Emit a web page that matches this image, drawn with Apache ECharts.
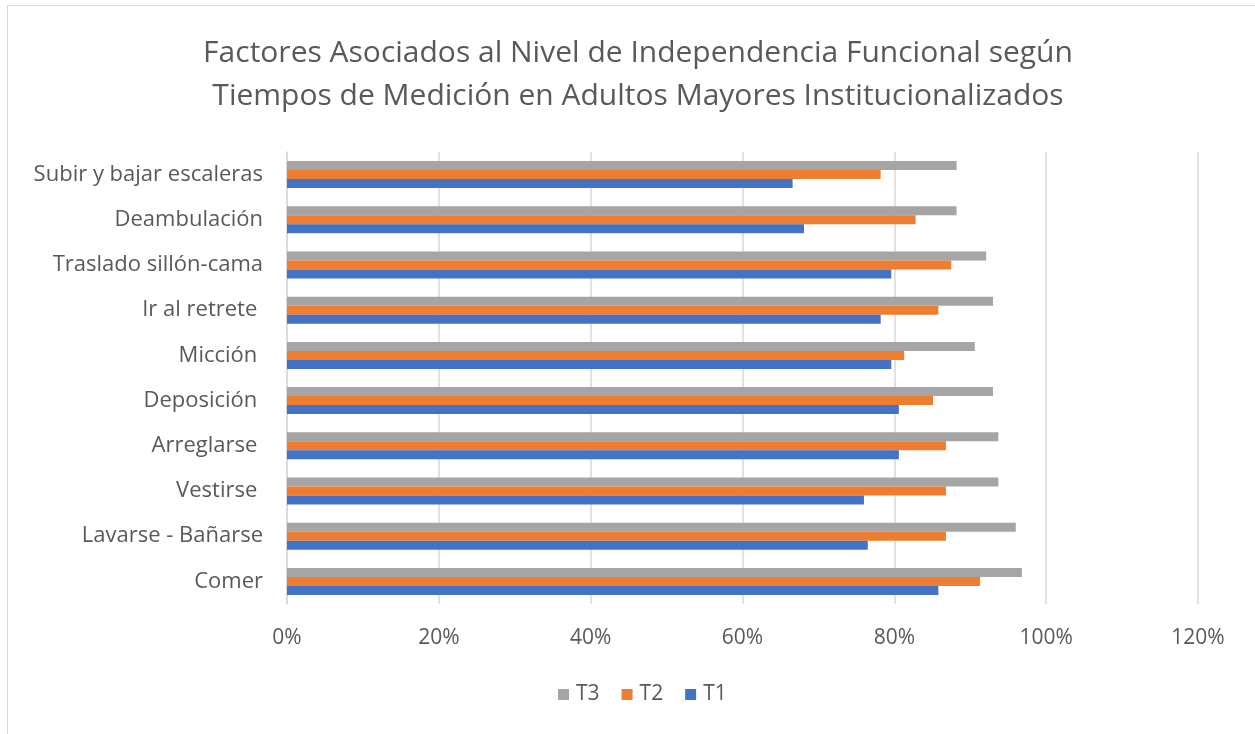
<!DOCTYPE html>
<html>
<head>
<meta charset="utf-8">
<script src="https://cdn.jsdelivr.net/npm/echarts@6/dist/echarts.min.js"></script>
<style>
  html, body { margin: 0; padding: 0; background: #fff; }
  #chart { width: 1255px; height: 734px; }
</style>
</head>
<body>
<div id="chart"></div>
<script>
// categories, bottom to top
var categories = ['Comer', 'Lavarse - Bañarse', 'Vestirse ', 'Arreglarse ', 'Deposición ',
  'Micción ', 'Ir al retrete ', 'Traslado sillón-cama', 'Deambulación', 'Subir y bajar escaleras'];
var t1Values = [0.858, 0.765, 0.760, 0.806, 0.806, 0.796, 0.782, 0.796, 0.681, 0.666];
var t2Values = [0.913, 0.868, 0.868, 0.868, 0.851, 0.813, 0.858, 0.875, 0.828, 0.782];
var t3Values = [0.968, 0.960, 0.937, 0.937, 0.930, 0.906, 0.930, 0.921, 0.882, 0.882];
var xTicks = [0, 0.2, 0.4, 0.6, 0.8, 1.0, 1.2];

var textColor = '#595959';
var fontName = 'Open Sans';

var myChart = echarts.init(document.getElementById('chart'));
var option = {
  backgroundColor: '#fff',
  animation: false,
  graphic: [{
    type: 'rect',
    shape: { x: 7.5, y: 5.5, width: 1260, height: 740 },
    style: { fill: 'none', stroke: '#d9d9d9', lineWidth: 1 },
    silent: true
  }],
  title: {
    text: 'Factores Asociados al Nivel de Independencia Funcional según\nTiempos de Medición en Adultos Mayores Institucionalizados',
    left: 633,
    textAlign: 'center',
    top: 27,
    textStyle: { fontFamily: fontName, fontSize: 30, fontWeight: 'normal', color: textColor, lineHeight: 43 }
  },
  legend: {
    data: ['T3', 'T2', 'T1'],
    bottom: 24,
    left: 553,
    itemWidth: 11,
    itemHeight: 11,
    itemGap: 22,
    icon: 'rect',
    textStyle: { fontFamily: fontName, fontSize: 21, color: textColor, padding: [0, 0, 0, 2] }
  },
  grid: { left: 287, right: 57, top: 152, bottom: 130, containLabel: false },
  xAxis: {
    type: 'value',
    min: xTicks[0],
    max: xTicks[xTicks.length - 1],
    interval: 0.2,
    axisLine: { show: false },
    axisTick: { show: false },
    splitLine: { show: true, lineStyle: { color: '#d9d9d9', width: 1.5 } },
    axisLabel: {
      margin: 24,
      fontFamily: fontName, fontSize: 21, color: textColor,
      formatter: function (v) { return Math.round(v * 100) + '%'; }
    }
  },
  yAxis: {
    type: 'category',
    data: categories,
    axisLine: { show: true, lineStyle: { color: '#d9d9d9', width: 1.5 } },
    axisTick: { show: false },
    axisLabel: { margin: 24, fontFamily: fontName, fontSize: 22, color: textColor }
  },
  series: [
    { name: 'T3', type: 'bar', data: t3Values, barWidth: 9, barGap: '0%', itemStyle: { color: '#a5a5a5' } },
    { name: 'T2', type: 'bar', data: t2Values, barWidth: 9, barGap: '0%', itemStyle: { color: '#ed7d31' } },
    { name: 'T1', type: 'bar', data: t1Values, barWidth: 9, barGap: '0%', itemStyle: { color: '#4472c4' } }
  ]
};
myChart.setOption(option);
</script>
</body>
</html>
